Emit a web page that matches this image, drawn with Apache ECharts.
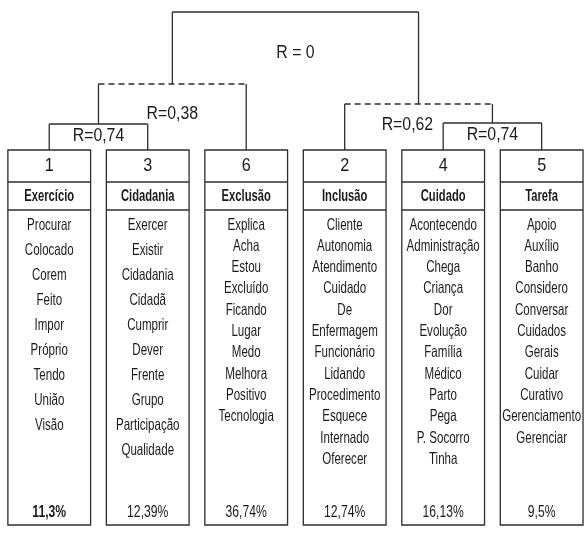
<!DOCTYPE html>
<html><head><meta charset="utf-8">
<script src="https://cdn.jsdelivr.net/npm/echarts@6/dist/echarts.min.js"></script>
<style>html,body{margin:0;padding:0;background:#fff}#c{width:584px;height:533px}</style>
</head><body><div id="c"></div>
<script>
// ---- data ----
const clusterIds = ['1', '3', '6', '2', '4', '5'];
const clusterNames = ['Exercício', 'Cidadania', 'Exclusão', 'Inclusão', 'Cuidado', 'Tarefa'];
const clusterShares = ['11,3%', '12,39%', '36,74%', '12,74%', '16,13%', '9,5%'];
const words1 = ['Procurar', 'Colocado', 'Corem', 'Feito', 'Impor', 'Próprio', 'Tendo', 'União', 'Visão'];
const words3 = ['Exercer', 'Existir', 'Cidadania', 'Cidadã', 'Cumprir', 'Dever', 'Frente', 'Grupo', 'Participação', 'Qualidade'];
const words6 = ['Explica', 'Acha', 'Estou', 'Excluído', 'Ficando', 'Lugar', 'Medo', 'Melhora', 'Positivo', 'Tecnologia'];
const words2 = ['Cliente', 'Autonomia', 'Atendimento', 'Cuidado', 'De', 'Enfermagem', 'Funcionário', 'Lidando', 'Procedimento', 'Esquece', 'Internado', 'Oferecer'];
const words4 = ['Acontecendo', 'Administração', 'Chega', 'Criança', 'Dor', 'Evolução', 'Família', 'Médico', 'Parto', 'Pega', 'P. Socorro', 'Tinha'];
const words5 = ['Apoio', 'Auxílio', 'Banho', 'Considero', 'Conversar', 'Cuidados', 'Gerais', 'Cuidar', 'Curativo', 'Gerenciamento', 'Gerenciar'];
const clusterWords = [words1, words3, words6, words2, words4, words5];
// dendrogram merges (left child, right child, label, drawn link height)
const mergeLeft = ['1', '1+3', '4', '2', '1+3+6'];
const mergeRight = ['3', '6', '5', '4+5', '2+4+5'];
const mergeLabels = ['R=0,74', 'R=0,38', 'R=0,74', 'R=0,62', 'R = 0'];
const mergeHeights = [26, 66, 27, 46, 138];

// ---- styles ----
const dashedLabels = ['R=0,38', 'R=0,62'];
const wordLineGap = [25, 25, 21.3, 21.3, 21.3, 21.3];
const shareBold = [true, false, false, false, false, false];
const FONT = "'Liberation Sans', Arial, sans-serif";
const INK = '#1b1b1b';
const LINE = '#2e2e2e';
const R_SIZE = 18, R_SX = 0.88;

const measureCtx = document.createElement('canvas').getContext('2d');
function textWidth(text, size, bold) {
  measureCtx.font = (bold ? 'bold ' : '') + size + 'px ' + FONT;
  return measureCtx.measureText(text).width;
}
function txt(x, y, text, size, bold, sx) {
  return {type: 'text', x: x, y: y, scaleX: sx, style: {
    text: text, fill: INK, font: (bold ? 'bold ' : '') + size + 'px ' + FONT,
    textAlign: 'center', textVerticalAlign: 'middle'}};
}

// ---- build tree geometry from data ----
const nodeX = {}, nodeH = {}, nodeLegs = {};
clusterIds.forEach((id, i) => { nodeX[id] = i; nodeH[id] = 0; nodeLegs[id] = null; });
const linkData = [], labelData = [];
mergeLeft.forEach((l, k) => {
  const r = mergeRight[k];
  const id = l + '+' + r;
  const h = mergeHeights[k];
  nodeX[id] = (nodeX[l] + nodeX[r]) / 2;
  nodeH[id] = h;
  nodeLegs[id] = [nodeX[l], nodeX[r]];
  linkData.push([nodeX[l], nodeX[r], h, nodeH[l], nodeH[r], dashedLabels.includes(mergeLabels[k]) ? 1 : 0]);
  const low = Math.min(nodeH[l], nodeH[r]);
  // obstacles: inner legs of merged children
  const lInner = nodeLegs[l] ? nodeLegs[l][1] : -99;
  const rInner = nodeLegs[r] ? nodeLegs[r][0] : 99;
  labelData.push([nodeX[id], h - 0.45 * (h - low), lInner, nodeH[l], rInner, nodeH[r], mergeLabels[k]]);
});

const chart = echarts.init(document.getElementById('c'), null, {renderer: 'canvas'});
chart.setOption({
  animation: false,
  backgroundColor: '#fff',
  grid: {left: 0, right: 0, top: 0, height: 150},
  xAxis: {type: 'value', min: -0.5, max: 5.43, show: false},
  yAxis: {type: 'value', min: 0, max: 150, show: false},
  series: [
    {
      type: 'custom',
      data: linkData,
      renderItem: function (params, api) {
        const xl = api.value(0), xr = api.value(1), h = api.value(2);
        const hl = api.value(3), hr = api.value(4), dashed = api.value(5);
        const pL = api.coord([xl, h]), pR = api.coord([xr, h]);
        const pLb = api.coord([xl, hl]), pRb = api.coord([xr, hr]);
        const base = {stroke: LINE, lineWidth: 1.3};
        return {type: 'group', children: [
          {type: 'line', shape: {x1: pL[0], y1: pL[1], x2: pR[0], y2: pR[1]},
            style: Object.assign({}, base, dashed ? {lineDash: [6, 4]} : {})},
          {type: 'line', shape: {x1: pL[0], y1: pL[1], x2: pLb[0], y2: pLb[1]}, style: base},
          {type: 'line', shape: {x1: pR[0], y1: pR[1], x2: pRb[0], y2: pRb[1]}, style: base}
        ]};
      }
    },
    {
      type: 'custom',
      data: labelData,
      renderItem: function (params, api) {
        const d = labelData[params.dataIndex];
        const p = api.coord([d[0], d[1]]);
        const half = textWidth(d[6], R_SIZE, false) * R_SX / 2;
        const halfH = R_SIZE * 0.45;
        const gap = 10;
        let x = p[0];
        // keep label clear of the legs of a child bracket that reaches label height
        const lTop = api.coord([d[2], d[3]]);
        if (d[2] > -90 && lTop[1] < p[1] + halfH) x = Math.max(x, lTop[0] + gap + half);
        const rTop = api.coord([d[4], d[5]]);
        if (d[4] < 90 && rTop[1] < p[1] + halfH) x = Math.min(x, rTop[0] - gap - half);
        return txt(x, p[1], d[6], R_SIZE, false, R_SX);
      }
    },
    {
      type: 'custom',
      data: clusterIds.map((id, i) => [i, 0]),
      renderItem: function (params, api) {
        const i = params.dataIndex;
        const top = api.coord([api.value(0), api.value(1)]);
        const w = api.size([1, 0])[0] * 0.84;
        const cx = top[0], y0 = top[1];
        const boxH = 375;
        const x0 = cx - w / 2;
        const base = {stroke: LINE, lineWidth: 1.3};
        const kids = [
          {type: 'rect', shape: {x: x0, y: y0, width: w, height: boxH}, style: {fill: '#fff', stroke: LINE, lineWidth: 1.3}},
          {type: 'line', shape: {x1: x0, y1: y0 + 32, x2: x0 + w, y2: y0 + 32}, style: base},
          {type: 'line', shape: {x1: x0, y1: y0 + 60, x2: x0 + w, y2: y0 + 60}, style: base},
          txt(cx, y0 + 16.5, clusterIds[i], 18, false, 0.9),
          txt(cx, y0 + 46.5, clusterNames[i], 16, true, 0.7),
          txt(cx, y0 + 363, clusterShares[i], 16, shareBold[i], 0.76)
        ];
        clusterWords[i].forEach((wd, j) => {
          kids.push(txt(cx, y0 + 75 + j * wordLineGap[i], wd, 16.5, false, 0.7));
        });
        return {type: 'group', children: kids};
      }
    }
  ]
});
</script>
</body></html>
